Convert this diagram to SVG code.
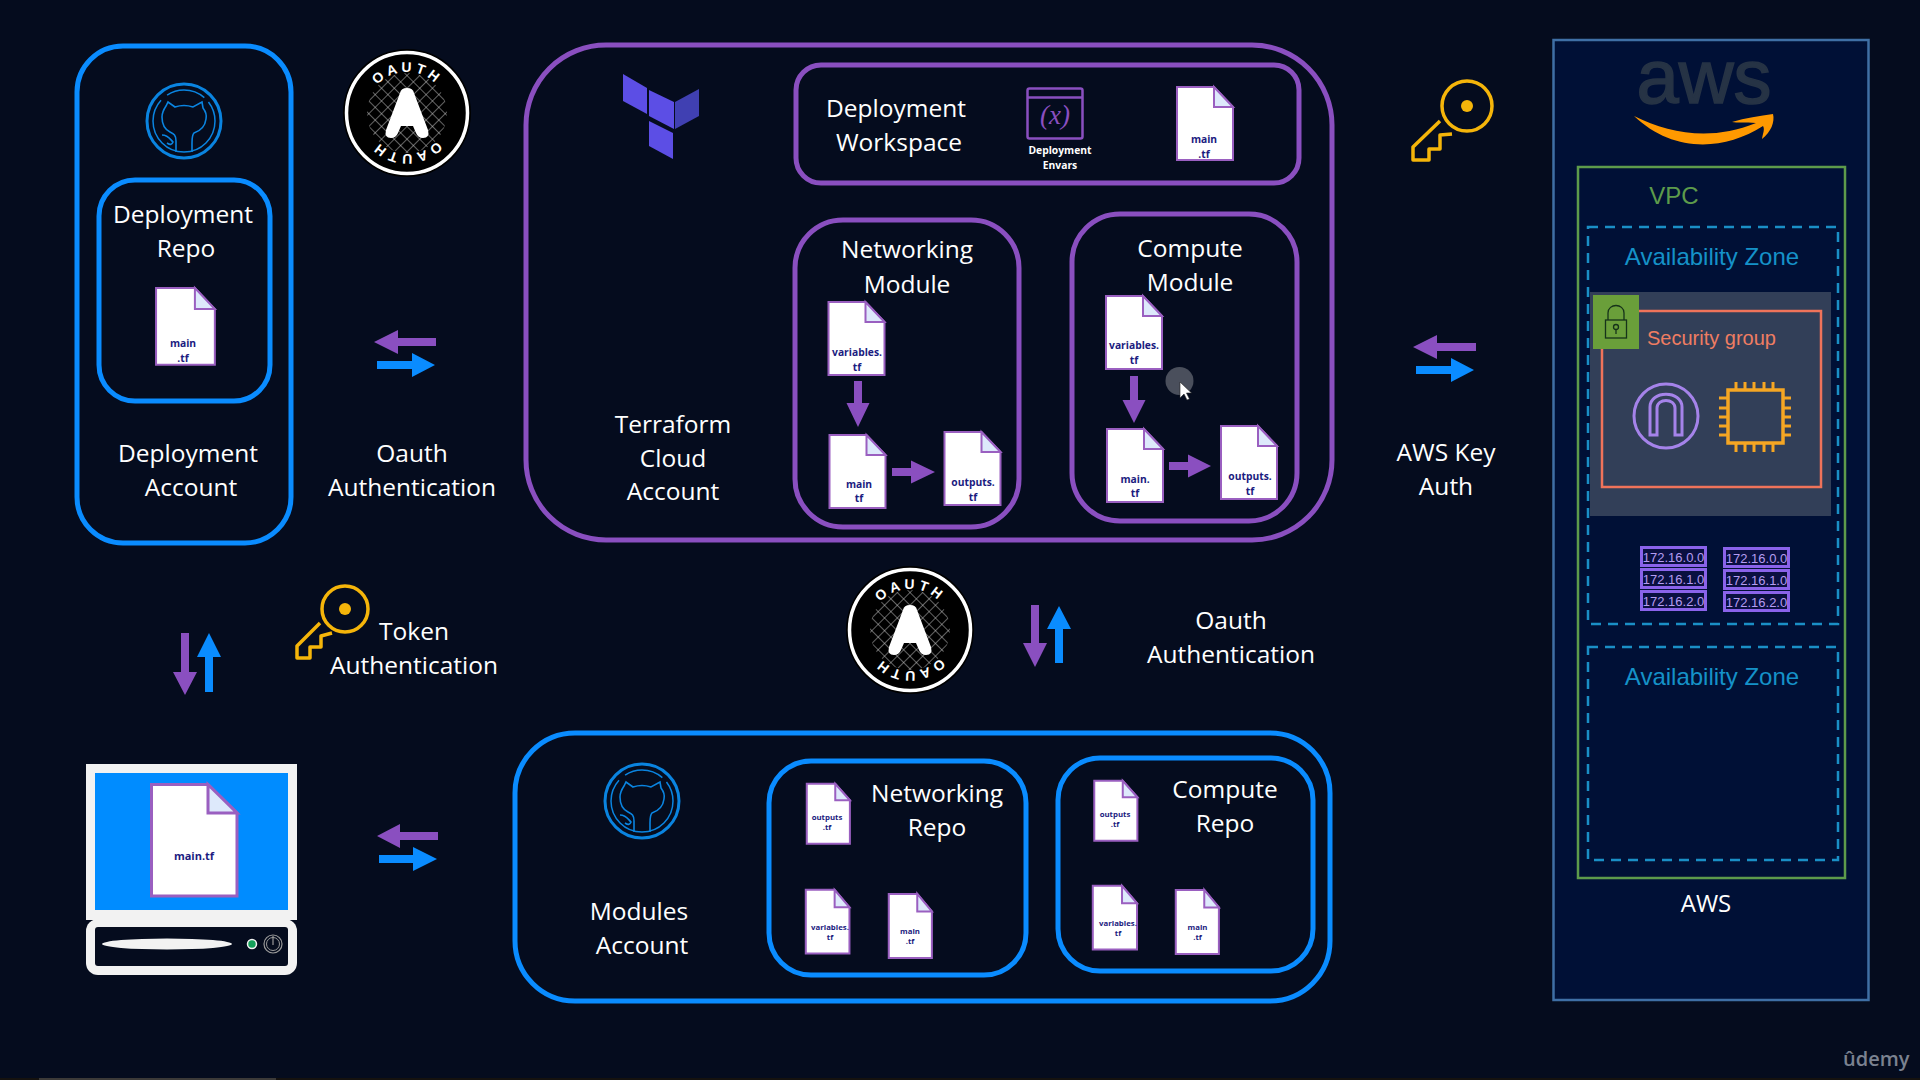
<svg xmlns="http://www.w3.org/2000/svg" width="1920" height="1080" viewBox="0 0 1920 1080">
<style>
.t{font-family:"Open Sans","Noto Sans",sans-serif;font-size:24.500px;fill:#fff;text-anchor:middle}
.d{font-family:"Open Sans","Noto Sans",sans-serif;font-weight:700;font-size:10.300px;fill:#1b1b80;text-anchor:middle}
.s{font-size:7.800px}
.a{font-family:"Liberation Sans",Arial,sans-serif;text-anchor:middle}
.blue{fill:none;stroke:#0a8cff;stroke-width:5}
.pur{fill:none;stroke:#8a4fc0;stroke-width:5}
.docb{fill:#fff;stroke:#9a5fc0;stroke-width:2;vector-effect:non-scaling-stroke}
.docf{fill:#dde9fb;stroke:#9a5fc0;stroke-width:2;vector-effect:non-scaling-stroke}
.ap{fill:#8a4fc0}
.ab{fill:#0a8cff}
.key{fill:none;stroke:#f5b50a;stroke-width:3.500}
.ipb{fill:#0a1040;stroke:#8a63ea;stroke-width:3}
.ipt{font-family:"Liberation Sans",Arial,sans-serif;font-size:13px;fill:#b59cf2;text-anchor:middle}
.pin{stroke:#f5a623;stroke-width:3;fill:none}
.ot{font-family:"Liberation Sans",Arial,sans-serif;font-weight:700;font-size:14px;fill:#fff;letter-spacing:3.500px;text-anchor:middle}
</style>
<defs>
<g id="doc"><path class="docb" d="M1 1H38L57 21V74H1Z"/><path class="docf" d="M38 1V21H57Z"/></g>
<g id="gh" fill="none" stroke="#0a84e0">
<circle r="37" stroke-width="3"/>
<circle r="31" stroke-width="1.500" stroke-dasharray="120 8 40 6 30 4"/>
<path stroke-width="1.600" d="M-8 31V20C-8 14-10 13-14 11C-20 8-22 2-22-4C-22-9-20-12-18-15L-16-19L-9-14C-3-16 3-16 9-14L18-19L19-13C22-9 23-6 22-2C21 6 16 10 10 12C8 14 8 17 8 22V31M-22 14C-16 14-14 18-11 21C-12 24-14 24-17 22"/>
</g>
<pattern id="hatch" width="9" height="9" patternUnits="userSpaceOnUse" patternTransform="rotate(45)">
<path d="M0 0H9M0 0V9" stroke="#c8c8c8" stroke-width="1" fill="none"/>
</pattern>
<path id="ringT" d="M0 41A41 41 0 1 1 0.010 41"/>
<path id="ringB" d="M0 -41A41 41 0 1 1 -0.010 -41"/>
<g id="oauth">
<circle r="64" fill="#000"/>
<circle r="60.500" fill="none" stroke="#fff" stroke-width="3.500"/>
<circle r="40" fill="url(#hatch)"/>
<path fill="#fff" d="M-7-20Q-6-25 0-25Q6-25 7-20L21 17Q23 25 16 25Q11 25 9 20L6 13H-6L-9 20Q-11 25-16 25Q-23 25-21 17Z"/>
<text class="ot"><textPath href="#ringT" startOffset="50%">OAUTH</textPath></text>
<text class="ot"><textPath href="#ringB" startOffset="50%">OAUTH</textPath></text>
</g>
</defs>
<rect width="1920" height="1080" fill="#050c1e"/>
<rect x="0" y="1078" width="1920" height="2" fill="#15120f"/>
<rect x="39" y="1078" width="237" height="2" fill="#3c3a38"/>

<g id="deployment-account">
<rect class="blue" x="77" y="46" width="214" height="497" rx="46"/>
<use href="#gh" x="184" y="121"/>
<text class="t" x="188" y="462">Deployment</text>
<text class="t" x="191" y="496">Account</text>
</g>
<g id="deployment-repo">
<rect class="blue" x="99" y="180" width="171" height="221" rx="36"/>
<text class="t" x="183" y="223">Deployment</text>
<text class="t" x="186" y="257">Repo</text>
<use href="#doc" transform="translate(155 287) scale(1.050 1.050)"/>
<text class="d" x="183" y="347">main</text>
<text class="d" x="183" y="362">.tf</text>
</g>
<g id="oauth-top">
<use href="#oauth" x="407" y="113"/>
<text class="t" x="412" y="462">Oauth</text>
<text class="t" x="412" y="496">Authentication</text>
</g>

<g id="terraform-account">
<rect class="pur" x="526" y="45" width="806" height="495" rx="80"/>
<polygon fill="#5c4ee5" points="623,74 647,88 647,114 623,101"/>
<polygon fill="#5c4ee5" points="649,90 674,102 674,129 649,116"/>
<polygon fill="#4040b2" points="699,89 699,116 675,129 675,102"/>
<polygon fill="#5c4ee5" points="649,121 673,133 673,159 649,146"/>
<text class="t" x="673" y="433">Terraform</text>
<text class="t" x="673" y="467">Cloud</text>
<text class="t" x="673" y="500">Account</text>
</g>
<g id="deployment-workspace">
<rect class="pur" x="796" y="65" width="503" height="118" rx="25"/>
<text class="t" x="896" y="117">Deployment</text>
<text class="t" x="899" y="151">Workspace</text>
<rect x="1027.500" y="88.500" width="55" height="50" rx="2" fill="none" stroke="#8a4fc0" stroke-width="2.500"/>
<path d="M1027 97.500H1083" stroke="#8a4fc0" stroke-width="2.500"/>
<text x="1055" y="124" font-family="'Liberation Serif',serif" font-style="italic" font-size="27" fill="#8a4fc0" text-anchor="middle">(x)</text>
<text class="d" x="1060" y="154" style="fill:#fff">Deployment</text>
<text class="d" x="1060" y="169" style="fill:#fff">Envars</text>
<use href="#doc" transform="translate(1176 86)"/>
<text class="d" x="1204" y="143">main</text>
<text class="d" x="1204" y="158">.tf</text>
</g>
<g id="networking-module">
<rect class="pur" x="795" y="220" width="224" height="307" rx="48"/>
<text class="t" x="907" y="258">Networking</text>
<text class="t" x="907" y="293">Module</text>
<use href="#doc" transform="translate(827.500 301)"/>
<text class="d" x="857" y="356">variables.</text>
<text class="d" x="857" y="371">tf</text>
<use href="#doc" transform="translate(828.500 434)"/>
<text class="d" x="859" y="488">main</text>
<text class="d" x="859" y="502">tf</text>
<use href="#doc" transform="translate(943.500 431)"/>
<text class="d" x="973" y="486">outputs.</text>
<text class="d" x="973" y="501">tf</text>
</g>
<g id="compute-module">
<rect class="pur" x="1072" y="214" width="225" height="307" rx="48"/>
<text class="t" x="1190" y="257">Compute</text>
<text class="t" x="1190" y="291">Module</text>
<use href="#doc" transform="translate(1105 295)"/>
<text class="d" x="1134" y="349">variables.</text>
<text class="d" x="1134" y="364">tf</text>
<use href="#doc" transform="translate(1106 428)"/>
<text class="d" x="1135" y="483">main.</text>
<text class="d" x="1135" y="497">tf</text>
<use href="#doc" transform="translate(1220 425)"/>
<text class="d" x="1250" y="480">outputs.</text>
<text class="d" x="1250" y="495">tf</text>
</g>
<g id="cursor">
<circle cx="1179.500" cy="381" r="14" fill="#4a4f5c"/>
<path fill="#fff" stroke="#222" stroke-width=".6" d="M1180 382V398L1184 394L1187 400L1189.500 399L1186.500 393H1191.500Z"/>
</g>

<g id="aws-key">
<circle class="key" cx="1467" cy="106" r="25"/><circle cx="1467" cy="106" r="6" fill="#f5b50a"/>
<path class="key" stroke-linejoin="round" d="M1440 121L1413 147V160H1429V149H1440V135L1452 134"/>
<text class="t" x="1446" y="461">AWS Key</text>
<text class="t" x="1446" y="495">Auth</text>
</g>

<g id="aws">
<rect x="1553.500" y="40" width="315" height="960" fill="#001036" stroke="#3f6fa5" stroke-width="2.500"/>
<text class="a" x="1704" y="103" font-size="76" fill="#263345" stroke="#263345" stroke-width="1.500">aws</text>
<path fill="#f90" d="M1634 116C1670 134 1712 141 1756 123C1745 122 1737 123 1732 122C1745 118 1760 116 1773 114C1775 122 1771 132 1762 139C1763 133 1765 129 1763 126C1722 152 1672 152 1634 116Z"/>
<rect x="1578" y="167" width="267" height="711" fill="none" stroke="#5d9b4b" stroke-width="2.500"/>
<text class="a" x="1674" y="204" font-size="24" fill="#5d9b4b">VPC</text>
<text class="a" x="1706" y="912" style="font-family:'Open Sans',sans-serif;font-size:24px" fill="#fff">AWS</text>
</g>
<g id="az-1">
<rect x="1588" y="227" width="250" height="397" fill="none" stroke="#1a8fc6" stroke-width="2.500" stroke-dasharray="10 7"/>
<text class="a" x="1712" y="265" font-size="24" fill="#1592c8">Availability Zone</text>
</g>
<g id="security-group">
<rect x="1590" y="292" width="241" height="224" fill="#323f58"/>
<rect x="1602" y="311" width="219" height="176" fill="none" stroke="#f0735a" stroke-width="2.500"/>
<rect x="1593" y="295" width="46" height="54" fill="#6a9f3a"/>
<g fill="none" stroke="#16331a" stroke-width="1.300">
<rect x="1605.500" y="320" width="21" height="18"/>
<path d="M1608 320V313C1608 303 1624 303 1624 313V320"/>
<circle cx="1616" cy="327" r="2.500"/><path d="M1616 329.500V334"/>
</g>
<text class="a" x="1647" y="345" font-size="20" fill="#ef7d62" style="text-anchor:start">Security group</text>
<circle cx="1666" cy="416" r="32" fill="none" stroke="#a583ea" stroke-width="3"/>
<path fill="none" stroke="#a583ea" stroke-width="3" d="M1650 435V407C1650 390 1682 390 1682 407V435H1675V408C1675 398 1657 398 1657 408V435Z"/>
<rect x="1728" y="390" width="55" height="53" fill="none" stroke="#f5a623" stroke-width="3.500"/>
<path class="pin" d="M1736 382V390M1745 382V390M1754 382V390M1764 382V390M1773 382V390M1736 443V452M1745 443V452M1754 443V452M1764 443V452M1773 443V452M1719 398H1728M1719 408H1728M1719 417H1728M1719 426H1728M1719 435H1728M1783 398H1791M1783 408H1791M1783 417H1791M1783 426H1791M1783 435H1791"/>
</g>
<g id="subnets">
<rect class="ipb" x="1641.500" y="547.500" width="64" height="18"/><text class="ipt" x="1673.500" y="561.500">172.16.0.0</text>
<rect class="ipb" x="1641.500" y="569.500" width="64" height="18"/><text class="ipt" x="1673.500" y="583.500">172.16.1.0</text>
<rect class="ipb" x="1641.500" y="591.500" width="64" height="18"/><text class="ipt" x="1673.500" y="605.500">172.16.2.0</text>
<rect class="ipb" x="1724.500" y="548.500" width="64" height="18"/><text class="ipt" x="1756.500" y="562.500">172.16.0.0</text>
<rect class="ipb" x="1724.500" y="570.500" width="64" height="18"/><text class="ipt" x="1756.500" y="584.500">172.16.1.0</text>
<rect class="ipb" x="1724.500" y="592.500" width="64" height="18"/><text class="ipt" x="1756.500" y="606.500">172.16.2.0</text>
</g>
<g id="az-2">
<rect x="1588" y="647" width="250" height="213" fill="none" stroke="#1a8fc6" stroke-width="2.500" stroke-dasharray="10 7"/>
<text class="a" x="1712" y="685" font-size="24" fill="#1592c8">Availability Zone</text>
</g>

<g id="token-auth">
<circle class="key" cx="345" cy="609" r="23"/><circle cx="345" cy="609" r="6" fill="#f5b50a"/>
<path class="key" stroke-linejoin="round" d="M320 623L297 646V658H310V647H321V636L332 633"/>
<text class="t" x="414" y="640">Token</text>
<text class="t" x="414" y="674">Authentication</text>
</g>
<g id="oauth-bottom">
<use href="#oauth" x="910" y="630"/>
<text class="t" x="1231" y="629">Oauth</text>
<text class="t" x="1231" y="663">Authentication</text>
</g>

<g id="computer">
<rect x="86" y="764" width="211" height="156" fill="#f2f2f2"/>
<rect x="95" y="773" width="193" height="137" fill="#008cff"/>
<path d="M151.500 784.500H208L237 813V896H151.500Z" fill="#fff" stroke="#9a5fc0" stroke-width="3"/>
<path d="M208 784.500V813H237Z" fill="#dde9fb" stroke="#9a5fc0" stroke-width="3"/>
<text class="d" x="194" y="860" style="font-size:11px">main.tf</text>
<rect x="86" y="919" width="211" height="56" rx="12" fill="#f2f2f2"/>
<rect x="95" y="927" width="193" height="39" rx="3" fill="#050c1e"/>
<ellipse cx="167" cy="944" rx="65" ry="5.500" fill="#f2f2f2"/>
<circle cx="252" cy="944" r="4.500" fill="#14a05a" stroke="#f2f2f2" stroke-width="1.500"/>
<circle cx="273" cy="944" r="9" fill="none" stroke="#9a9a9a" stroke-width="1.200"/>
<circle cx="273" cy="944" r="6.500" fill="none" stroke="#9a9a9a" stroke-width="1"/>
<path d="M273 936V945" stroke="#9a9a9a" stroke-width="1.200"/>
</g>

<g id="modules-account">
<rect class="blue" x="515" y="733" width="815" height="268" rx="60"/>
<use href="#gh" x="642" y="801"/>
<text class="t" x="639" y="920">Modules</text>
<text class="t" x="642" y="954">Account</text>
</g>
<g id="networking-repo">
<rect class="blue" x="769" y="761" width="257" height="214" rx="42"/>
<text class="t" x="937" y="802">Networking</text>
<text class="t" x="937" y="836">Repo</text>
<use href="#doc" transform="translate(806 783) scale(.77 .82)"/>
<text class="d s" x="827" y="820">outputs</text>
<text class="d s" x="827" y="830">.tf</text>
<use href="#doc" transform="translate(805 889) scale(.78 .87)"/>
<text class="d s" x="830" y="930">variables.</text>
<text class="d s" x="830" y="940">tf</text>
<use href="#doc" transform="translate(888 893) scale(.77 .88)"/>
<text class="d s" x="910" y="934">main</text>
<text class="d s" x="910" y="944">.tf</text>
</g>
<g id="compute-repo">
<rect class="blue" x="1058" y="758" width="255" height="213" rx="42"/>
<text class="t" x="1225" y="798">Compute</text>
<text class="t" x="1225" y="832">Repo</text>
<use href="#doc" transform="translate(1093.500 780) scale(.77 .82)"/>
<text class="d s" x="1115" y="817">outputs</text>
<text class="d s" x="1115" y="827">.tf</text>
<use href="#doc" transform="translate(1092 885) scale(.79 .87)"/>
<text class="d s" x="1118" y="926">variables.</text>
<text class="d s" x="1118" y="936">tf</text>
<use href="#doc" transform="translate(1175 889) scale(.77 .88)"/>
<text class="d s" x="1197.500" y="930">main</text>
<text class="d s" x="1197.500" y="940">.tf</text>
</g>

<g id="connectors">
<polygon class="ap" points="374,342 398,330 398,338 436,338 436,346 398,346 398,354"/>
<polygon class="ab" points="435,365 412,353 412,361 377,361 377,369 412,369 412,377"/>
<polygon class="ap" points="1413,347 1437,335 1437,343 1476,343 1476,351 1437,351 1437,359"/>
<polygon class="ab" points="1474,370 1451,358 1451,366 1416,366 1416,374 1451,374 1451,382"/>
<polygon class="ap" points="377,836 400,824 400,832 438,832 438,840 400,840 400,848"/>
<polygon class="ab" points="437,859 413,847 413,855 379,855 379,863 413,863 413,871"/>
<polygon class="ap" points="185,695 173,672 181,672 181,633 189,633 189,672 197,672"/>
<polygon class="ab" points="209,633 197,657 205,657 205,692 213,692 213,657 221,657"/>
<polygon class="ap" points="1035,667 1023,643 1031,643 1031,605 1039,605 1039,643 1047,643"/>
<polygon class="ab" points="1059,606 1047,629 1055,629 1055,663 1063,663 1063,629 1071,629"/>
<polygon class="ap" points="858,427 846.500,403 854,403 854,381 862,381 862,403 869.500,403"/>
<polygon class="ap" points="1134,423 1122.500,400 1130,400 1130,376 1138,376 1138,400 1145.500,400"/>
<polygon class="ap" points="935,472 911,460.500 911,468 892,468 892,476 911,476 911,483.500"/>
<polygon class="ap" points="1211,466 1188,454.500 1188,462 1169,462 1169,470 1188,470 1188,477.500"/>
</g>
<text id="udemy" x="1843" y="1066" font-family="'Open Sans',sans-serif" font-weight="600" font-size="20" fill="#7b8290">ûdemy</text>
</svg>
